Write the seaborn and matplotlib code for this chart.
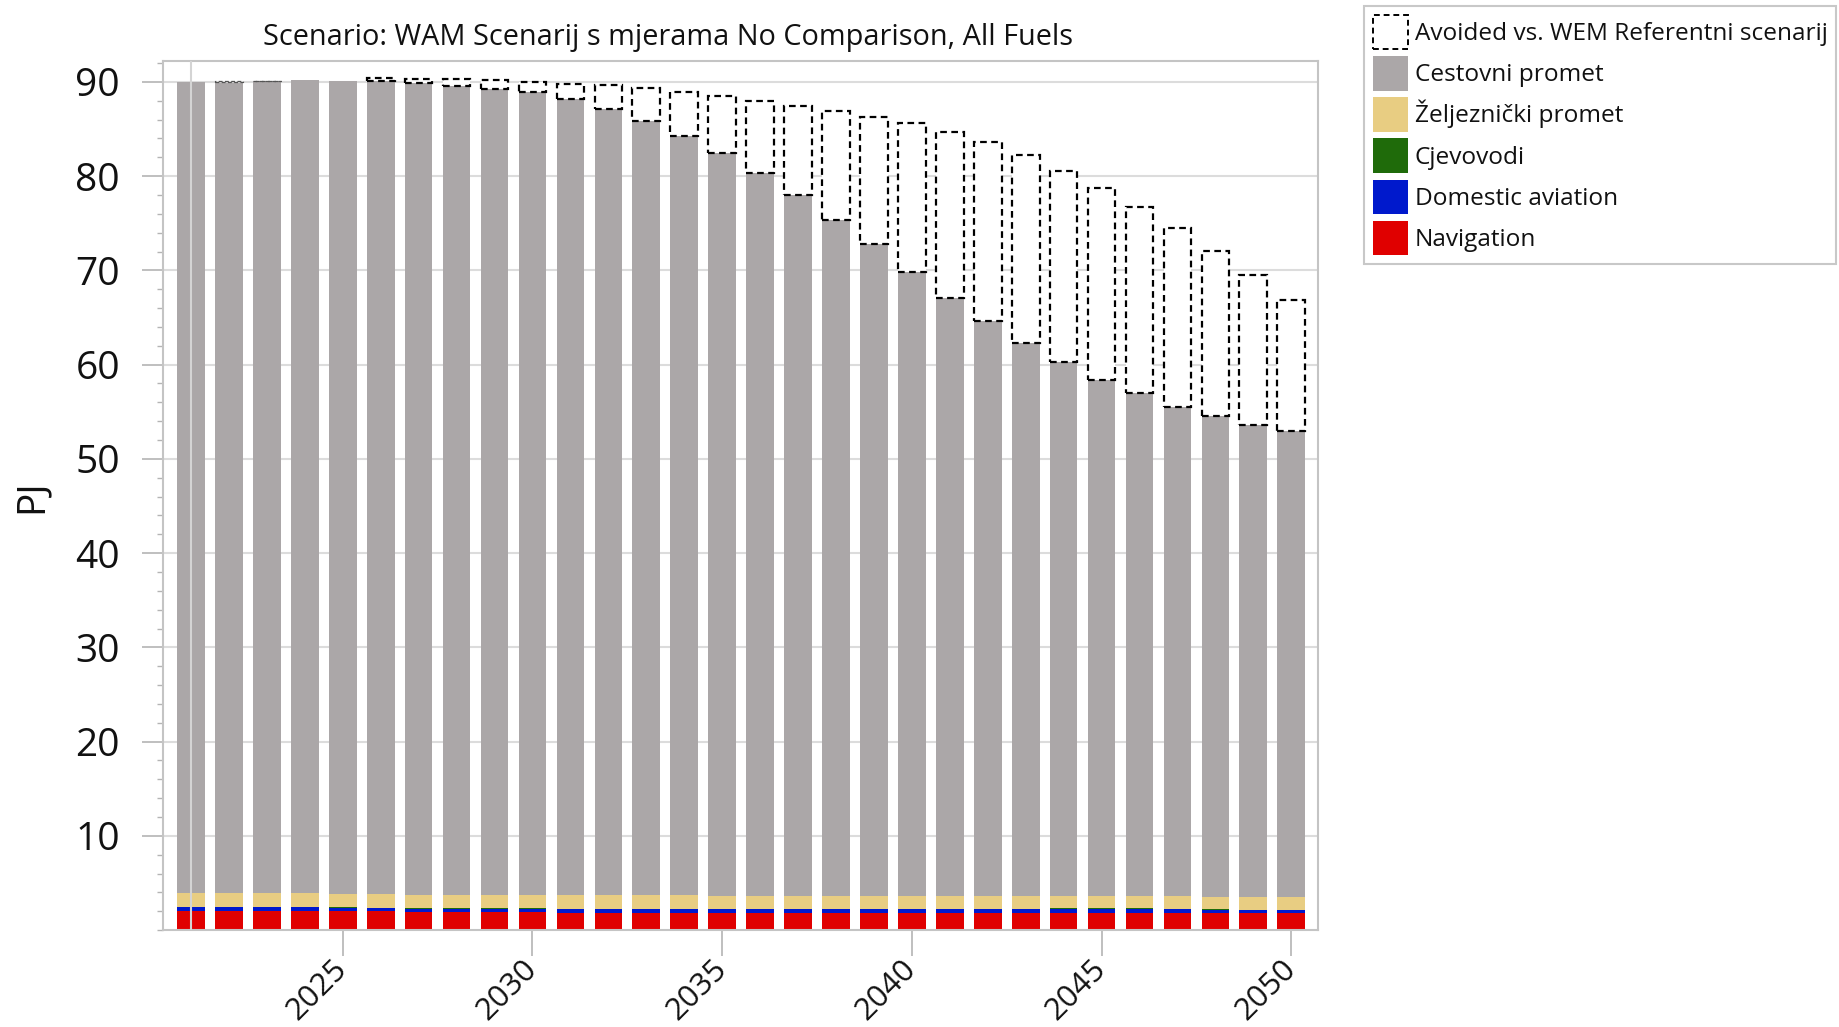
import numpy as np
import pandas as pd
import matplotlib
matplotlib.use("Agg")
import matplotlib.pyplot as plt
import seaborn as sns
from matplotlib.patches import Patch
from matplotlib.ticker import FixedLocator, MultipleLocator

years = list(range(2021, 2051))

navigation = [2.05, 2.05, 2.05, 2.05, 2.00, 1.98, 1.95, 1.92, 1.90, 1.88,
              1.86, 1.86, 1.85, 1.85, 1.85, 1.84, 1.84, 1.83, 1.83, 1.83,
              1.82, 1.82, 1.81, 1.80, 1.78, 1.78, 1.78, 1.77, 1.77, 1.77]
aviation = [0.35, 0.35, 0.35, 0.35, 0.33, 0.33, 0.33, 0.33, 0.34, 0.34,
            0.34, 0.35, 0.35, 0.35, 0.35, 0.35, 0.35, 0.36, 0.36, 0.36,
            0.37, 0.37, 0.38, 0.42, 0.45, 0.45, 0.42, 0.35, 0.33, 0.32]
pipelines = [0.07] * 30
rail = [1.43, 1.43, 1.42, 1.42, 1.42, 1.42, 1.42, 1.41, 1.41, 1.41,
        1.40, 1.40, 1.40, 1.40, 1.39, 1.39, 1.39, 1.38, 1.38, 1.38,
        1.37, 1.37, 1.37, 1.36, 1.36, 1.36, 1.35, 1.35, 1.35, 1.35]
road = [86.10, 86.07, 86.21, 86.29, 86.26, 86.25, 86.10, 85.82, 85.51, 85.18,
        84.50, 83.50, 82.23, 80.58, 78.84, 76.65, 74.35, 71.76, 69.11, 66.16,
        63.43, 60.97, 58.67, 56.60, 54.74, 53.28, 51.88, 51.00, 50.06, 49.43]
avoided = [0.0, 0.08, 0.05, 0.0, 0.0, 0.38, 0.43, 0.72, 0.97, 1.12,
           1.66, 2.47, 3.42, 4.65, 6.00, 7.70, 9.43, 11.50, 13.55, 15.80,
           17.64, 19.05, 19.90, 20.35, 20.36, 19.84, 18.95, 17.54, 15.92, 13.90]

tick_years = ["2025", "2030", "2035", "2040", "2045", "2050"]
y_ticks = [10, 20, 30, 40, 50, 60, 70, 80, 90]

title = "Scenario: WAM Scenarij s mjerama No Comparison, All Fuels"

sns.set_theme(style="white")
plt.rcParams["font.family"] = ["Open Sans", "DejaVu Sans"]

fig = plt.figure(figsize=(18.39, 10.27), dpi=100)
ax = fig.add_axes([0.0886, 0.0944, 0.628, 0.846])

order = [str(y) for y in years]
layers = [
    ("Navigation", navigation, "#e00000"),
    ("Domestic aviation", aviation, "#0019cc"),
    ("Cjevovodi", pipelines, "#1f6b0a"),
    ("Željeznički promet", rail, "#e8cd82"),
    ("Cestovni promet", road, "#aba7a8"),
]

bottom = np.zeros(len(years))
for name, vals, col in layers:
    df = pd.DataFrame({"year": order, "value": vals})
    sns.barplot(data=df, x="year", y="value", order=order, color=col,
                saturation=1, width=0.73, errorbar=None,
                bottom=bottom.copy(), linewidth=0, ax=ax, zorder=2)
    bottom += np.array(vals)

df_av = pd.DataFrame({"year": order, "value": avoided})
sns.barplot(data=df_av, x="year", y="value", order=order, color="white",
            saturation=1, width=0.73, errorbar=None, bottom=bottom.copy(),
            edgecolor="black", linewidth=1.6, linestyle=(0, (3, 2)),
            ax=ax, zorder=2)
for p in ax.containers[-1]:
    if p.get_height() <= 0:
        p.set_visible(False)
    elif p.get_height() < 0.2:
        p.set_linewidth(0.9)
        p.set_edgecolor("#555555")

ax.axvline(0, color="#d4d4d4", lw=1.5, zorder=5)

ax.set_xlim(-0.74, 29.70)
ax.set_ylim(0, 92.2)

ax.yaxis.set_major_locator(FixedLocator(y_ticks))
ax.yaxis.set_minor_locator(MultipleLocator(2))
ax.set_yticklabels([str(v) for v in y_ticks])
ax.yaxis.grid(True, which="major", color="#dcdcdc", lw=1.5)
ax.set_axisbelow(True)

pos = [order.index(t) for t in tick_years]
ax.set_xticks(pos)
ax.set_xticklabels(tick_years, rotation=45, ha="right", va="center",
                   rotation_mode="anchor")

ax.tick_params(axis="y", which="major", left=True, length=15, width=1.2,
               color="#b4b4b4", pad=16, labelsize=28, labelcolor="#111111")
ax.tick_params(axis="y", which="minor", left=True, length=4, width=1.0,
               color="#b4b4b4")
ax.tick_params(axis="x", which="major", bottom=True, length=19, width=1.2,
               color="#b4b4b4", pad=6, labelsize=22.5, labelcolor="#111111")

for s in ax.spines.values():
    s.set_visible(True)
    s.set_color("#c4c4c4")
    s.set_linewidth(1.5)

ax.set_xlabel("")
ax.set_ylabel("PJ", fontsize=28, color="#111111")
ax.yaxis.set_label_coords(-0.097, 0.5)

fig.text(0.363, 1 - 37 / 1027, title, ha="center", va="center",
         fontsize=20.8, color="#111111")

handles = [Patch(facecolor="white", edgecolor="black", linestyle=(0, (3, 2)),
                 linewidth=1.4, label="Avoided vs. WEM Referentni scenarij")]
for name, vals, col in reversed(layers):
    handles.append(Patch(facecolor=col, edgecolor="none", label=name))
leg = fig.legend(handles=handles, loc="upper left",
                 bbox_to_anchor=(1364 / 1839, 1 - 6 / 1027),
                 fontsize=17.6, frameon=True, fancybox=False, framealpha=1,
                 edgecolor="#c8c8c8", handlelength=1.42, handleheight=1.8,
                 handletextpad=0.29, labelspacing=0.27, borderpad=0.36,
                 borderaxespad=0)
for t in leg.get_texts():
    t.set_color("#111111")
leg.get_frame().set_linewidth(1.5)

fig.savefig("out.png", dpi=100)
